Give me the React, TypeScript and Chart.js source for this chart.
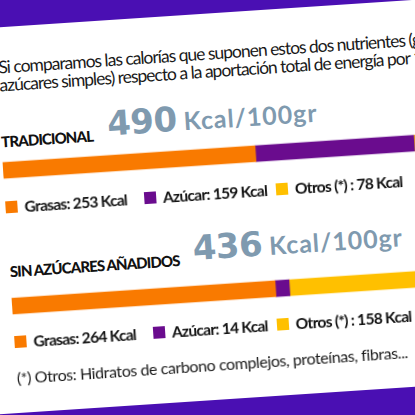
import React, { useEffect, useRef } from "react";
import { Chart, registerables } from "chart.js";

Chart.register(...registerables);

const categories = ["TRADICIONAL", "SIN AZÚCARES AÑADIDOS"];
const totals = [490, 436];
const grasas = [253, 264];
const azucar = [159, 14];
const otros = [78, 158];
const seriesLabels = ["Grasas:", "Azúcar:", "Otros (*) :"];
const introLines = [
  "Si comparamos las calorías que suponen estos dos nutrientes (grasas y",
  "azúcares simples) respecto a la aportación total de energía por 100 gr",
];
const footnote = "(*) Otros: Hidratos de carbono complejos, proteínas, fibras...";
const unit = "Kcal/100gr";

const COLORS = ["#F97A00", "#6A0C8E", "#FFC000"];
const BAND = "#4A0FB3";
const NUM = "#7F9AAF";
const FONT = "Lato, 'Open Sans', sans-serif";

const series = [grasas, azucar, otros];
const legendGaps = [17, 9, 0];

function Legend({ idx, top }: { idx: number; top: number }) {
  return (
    <div style={{ position: "absolute", left: 6, top, display: "flex", alignItems: "flex-end", whiteSpace: "nowrap" }}>
      {series.map((s, k) => (
        <div key={k} style={{ display: "flex", alignItems: "flex-end", marginRight: legendGaps[k] }}>
          <div style={{ width: 12, height: 12, background: COLORS[k], marginRight: 7 }} />
          <span style={{ fontFamily: FONT, fontWeight: 700, fontSize: 15.5, lineHeight: "15.5px", position: "relative", top: 2.8, letterSpacing: -0.7, color: "#111" }}>
            {seriesLabels[k]} {s[idx]} Kcal
          </span>
        </div>
      ))}
    </div>
  );
}

function Heading({ idx, baseline, numLeft }: { idx: number; baseline: number; numLeft: number }) {
  const hs = 15;
  const ns = 34;
  const us = 25;
  return (
    <>
      <div style={{ position: "absolute", left: 6, top: baseline - 0.887 * hs, fontFamily: FONT, fontWeight: 900, fontSize: hs, lineHeight: 1, letterSpacing: -0.9, color: "#111", whiteSpace: "nowrap" }}>
        {categories[idx]}
      </div>
      <div style={{ position: "absolute", left: numLeft, top: baseline - 6 - 32, height: 40, display: "flex", alignItems: "baseline", whiteSpace: "nowrap", color: NUM }}>
        <span style={{ fontFamily: "'DejaVu Sans', sans-serif", fontWeight: 700, fontSize: ns, lineHeight: "40px", letterSpacing: -0.5 }}>{totals[idx]}</span>
        <span style={{ fontFamily: FONT, fontSize: us, fontWeight: 700, lineHeight: "40px", marginLeft: 7, letterSpacing: 0.9 }}>{unit}</span>
      </div>
    </>
  );
}

export default function App() {
  const ref = useRef<HTMLCanvasElement | null>(null);
  useEffect(() => {
    document.body.style.margin = "0";
    document.body.style.overflow = "hidden";
    const chart = new Chart(ref.current!, {
      type: "bar",
      data: {
        labels: categories,
        datasets: series.map((s, k) => ({
          label: seriesLabels[k],
          data: s,
          backgroundColor: COLORS[k],
          borderWidth: 0,
          barThickness: 16,
        })),
      },
      options: {
        indexAxis: "y",
        responsive: false,
        animation: false,
        layout: { padding: 0 },
        scales: {
          x: { stacked: true, display: false, min: 0, max: 500 },
          y: { stacked: true, display: false },
        },
        plugins: { legend: { display: false }, tooltip: { enabled: false } },
      },
    });
    return () => chart.destroy();
  }, []);

  const introSize = 17.5;
  return (
    <div style={{ position: "fixed", left: 0, top: 0, width: 415, height: 415, overflow: "hidden", background: "#fff" }}>
      <div style={{ position: "absolute", left: 0, top: 0, width: 415, height: 415, transform: "rotate(-3.8deg)", transformOrigin: "207.5px 207.5px" }}>
        <div style={{ position: "absolute", left: -80, top: -100, width: 600, height: 114, background: BAND }} />
        {introLines.map((t, i) => (
          <div key={i} style={{ position: "absolute", left: 8, top: 61 + i * 18 - 0.887 * introSize, fontFamily: FONT, fontSize: introSize, lineHeight: 1, letterSpacing: -1.0, color: "#1a1a1a", whiteSpace: "nowrap" }}>
            {t}
          </div>
        ))}
        <Heading idx={0} baseline={134.6} numLeft={113} />
        <Heading idx={1} baseline={264.8} numLeft={190} />
        <canvas ref={ref} width={500} height={272} style={{ position: "absolute", left: 6, top: 88.5 }} />
        <Legend idx={0} top={184.5} />
        <Legend idx={1} top={319.5} />
        <div style={{ position: "absolute", left: 6, top: 371 - 0.887 * 16, fontFamily: FONT, fontSize: 16, lineHeight: 1, letterSpacing: -0.4, color: "#1a1a1a", whiteSpace: "nowrap" }}>
          {footnote}
        </div>
        <div style={{ position: "absolute", left: -80, top: 400, width: 600, height: 120, background: BAND }} />
      </div>
    </div>
  );
}
